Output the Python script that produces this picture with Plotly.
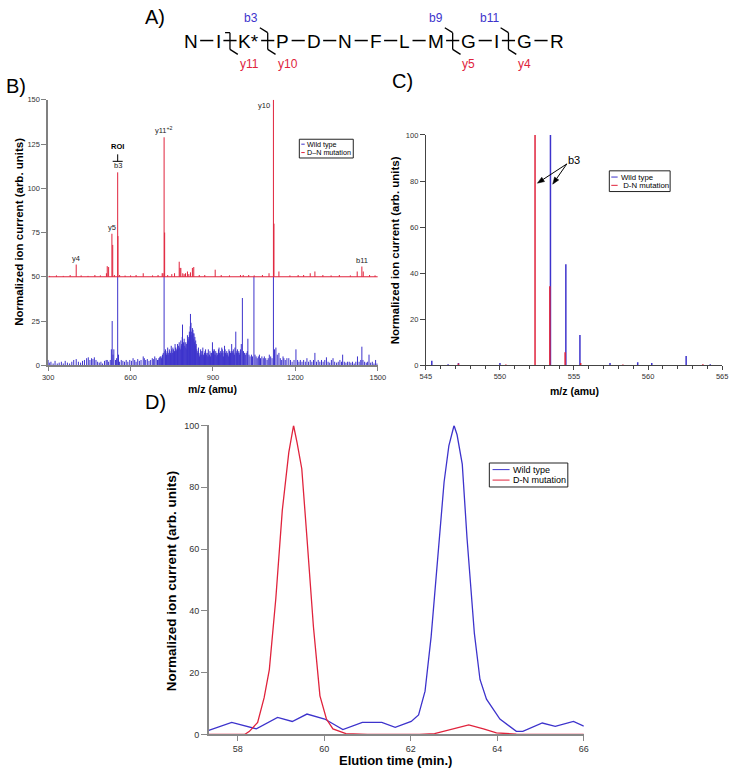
import math
import plotly.graph_objects as go

W, H = 737, 774
FONT = "Arial, Liberation Sans, sans-serif"
BLUE = "#3d33cc"
RED = "#e0233c"

def px(x):
    return x / W

def py(y):
    return 1 - y / H

# ---------------- data ----------------
# Panel A: peptide and fragmentation sites
residues = ["N", "I", "K*", "P", "D", "N", "F", "L", "M", "G", "I", "G", "R"]
cleave_after = [1, 2, 8, 10]
b_ions = [None, "b3", "b9", "b11"]
y_ions = ["y11", "y10", "y5", "y4"]

# Panel B: MS/MS spectra (m/z, normalized intensity)
wt_mz = [300, 304, 310, 318, 325, 333, 340, 348, 355, 362, 370, 378, 386, 393, 402, 410, 418, 425, 432, 440,
         446, 452, 458, 463, 468, 474, 480, 486, 492, 498, 505, 511, 515, 520, 526, 530, 533, 536, 539, 545,
         549, 553, 556, 560, 566, 572, 578, 584, 590, 597, 603, 609, 615, 620, 626, 632, 638, 646, 650, 655,
         661, 667, 673, 679, 684, 688, 693, 698, 703, 706, 711, 716, 719, 722, 725, 729, 733, 737, 741, 745,
         748, 752, 756, 760, 764, 768, 771, 775, 779, 783, 786, 789, 793, 797, 801, 803, 806, 809, 812, 815,
         818, 821, 825, 828, 831, 834, 837, 841, 845, 849, 853, 857, 861, 865, 869, 873, 877, 881, 885, 889,
         893, 898, 902, 905, 908, 912, 916, 920, 924, 928, 932, 936, 940, 944, 948, 952, 956, 960, 964, 968,
         972, 976, 980, 983, 987, 992, 996, 1000, 1003, 1007, 1011, 1015, 1019, 1021, 1025, 1027, 1031, 1035, 1040, 1044,
         1049, 1053, 1057, 1061, 1065, 1069, 1073, 1078, 1083, 1087, 1092, 1097, 1101, 1105, 1110, 1115, 1120, 1124, 1129, 1134,
         1140, 1145, 1150, 1155, 1158, 1163, 1169, 1176, 1182, 1188, 1195, 1202, 1208, 1213, 1218, 1224, 1230, 1236, 1242, 1248,
         1254, 1260, 1266, 1271, 1277, 1283, 1289, 1295, 1301, 1307, 1313, 1319, 1325, 1331, 1337, 1343, 1350, 1356, 1362, 1368,
         1372, 1378, 1384, 1390, 1396, 1402, 1408, 1414, 1420, 1426, 1432, 1438, 1442, 1446, 1452, 1458, 1463, 1468, 1474, 1480,
         1486, 1492, 1497,
         700, 708, 713, 727, 731, 735, 739, 743, 747, 750, 754, 758, 762, 766, 770, 773, 777, 781, 785, 788,
         791, 795, 799, 805, 807, 810, 814, 817, 820, 823, 827, 830, 833, 836, 839, 843, 847, 851, 855, 859,
         863, 867, 871, 875, 879, 883, 887, 891, 895, 900, 904, 910, 914, 918, 922, 926, 930, 934, 938, 942,
         946, 950, 954, 958, 962, 966, 970, 974, 978, 985, 989, 994, 998]
wt_int = [3, 1.5, 2, 1, 2.5, 1, 1.5, 2, 1, 2.5, 1.5, 1, 2, 3, 3.5, 2, 1.5, 2.5, 3, 4,
          4.5, 3, 4, 3.5, 4.5, 3, 2, 1.5, 2, 1, 2.5, 3, 3, 2, 3, 9, 25, 6, 9, 3,
          4, 50, 6, 2, 3, 2.5, 2, 3, 2, 3, 2.5, 4, 3, 2, 3.5, 2.5, 3, 5, 4, 3,
          3.5, 2.5, 3, 4, 3.5, 5, 4, 3, 4, 4.5, 5, 6, 7, 50, 8, 7, 8, 6, 9, 7,
          11, 7, 9, 8, 10, 9, 12, 11, 10, 14, 12, 23, 13, 11, 10, 12, 13, 15, 16, 17,
          29, 19, 21, 18, 18, 16, 14, 9, 8, 7, 6, 8, 8, 6, 7, 9, 6, 7, 5, 8,
          7, 13, 8, 9, 6, 7, 6, 9, 7, 8, 10, 7, 8, 9, 6, 7, 5, 8, 7, 12,
          8, 7, 10, 19, 8, 7, 6, 9, 12, 38, 8, 7, 6, 7, 8, 15, 6, 5, 6, 5,
          50, 6, 5, 4, 5, 6, 4, 5, 4, 5, 4, 3, 4, 6, 5, 4, 50, 9, 10, 6,
          7, 4, 3, 5, 4, 3, 4, 4, 3, 2, 3, 9, 3, 2, 3, 2, 3, 2, 4, 2,
          3, 2, 3, 7, 2, 3, 2, 3, 2, 3, 4.5, 2, 1.5, 3, 4, 2, 1.5, 2, 3, 2,
          6, 2, 1.5, 2, 2, 1.5, 2, 1, 2, 5, 2, 3, 10.5, 3, 2, 1.5, 2, 6, 1.5, 2,
          1, 3, 1,
          3, 5, 4, 9, 6, 10, 7, 8, 6, 9, 10, 7, 12, 8, 10, 9, 13, 9, 11, 16,
          12, 15, 13, 9, 17, 14, 19, 22, 24, 17, 20, 15, 13, 11, 12, 7, 10, 5, 9, 6,
          10, 5, 8, 7, 5, 9, 6, 5, 7, 9, 6, 8, 5, 7, 10, 6, 7, 9, 5, 11,
          7, 8, 6, 9, 6, 8, 7, 9, 6, 7, 9, 8, 7]
dn_mz = [305, 330, 355, 380, 402, 420, 445, 470, 490, 512, 515, 520, 532, 535, 541, 553, 554, 560, 580, 600,
         620, 646, 680, 700, 715, 718, 722, 724, 735, 750, 760, 777, 780, 783, 790, 795, 800, 807, 812, 818,
         825, 830, 850, 870, 908, 930, 960, 1000, 1010, 1030, 1050, 1080, 1104, 1120, 1122, 1140, 1180, 1210, 1230, 1254,
         1271, 1300, 1330, 1360, 1400, 1425, 1442, 1447, 1470, 1490]
dn_int = [0.5, 0.8, 0.5, 1, 6.9, 0.8, 0.5, 1, 0.8, 2, 6, 5.5, 24.3, 18, 1, 59, 23, 1, 0.7, 0.8,
          1, 2, 0.8, 1, 2, 2, 78.8, 25, 1, 1.5, 2, 8.5, 5, 5, 2, 1.5, 2, 3, 1.5, 2.5,
          5, 5.5, 1, 1, 4, 1, 0.8, 1, 1, 1, 0.8, 1, 2, 100, 30, 3, 0.8, 1, 1, 2,
          3, 1, 0.8, 1, 0.8, 3, 5.8, 3, 1, 0.8]
b_peak_labels = ["y4", "y5", "b3", "y11<sup>+2</sup>", "y10", "b11"]
b_peak_mz = [402, 532, 553, 722, 1120, 1442]

# Panel C: zoom on b3 isotope cluster
c_wt_mz = [545.4, 546.5, 547.2, 550.0, 553.41, 554.45, 555.4, 557.43, 559.3, 560.25, 562.57, 564.2]
c_wt_int = [2, 0.5, 1, 1, 100, 43.9, 13.1, 1, 1.3, 1, 4, 0.5]
c_dn_mz = [547.2, 550.4, 552.37, 553.37, 554.4, 555.45, 558.3, 563.7]
c_dn_int = [0.8, 0.3, 100, 34.3, 5.7, 1, 0.3, 0.5]

# Panel D: extracted ion chromatograms
d_wt_t = [57.33, 57.86, 58.43, 58.92, 59.26, 59.6, 60.01, 60.43, 60.88, 61.03, 61.33, 61.64, 62.01, 62.18, 62.33,
          62.47, 62.62, 62.77, 62.88, 63.0, 63.07, 63.19, 63.3, 63.47, 63.6, 63.75, 64.06, 64.44, 64.59, 65.04,
          65.34, 65.76, 66.0]
d_wt = [1.3, 3.9, 1.8, 5.5, 4.2, 6.6, 5.0, 1.6, 3.9, 3.9, 3.9, 2.3, 4.2, 6.3, 14,
        31.6, 57, 81.7, 93.4, 100, 97, 87.5, 63.6, 32.7, 17.8, 11.4, 5.0, 1.0, 1.0, 3.7,
        2.6, 4.2, 2.7]
d_dn_t = [57.33, 58.16, 58.27, 58.46, 58.61, 58.73, 58.88, 59.03, 59.18, 59.29, 59.37, 59.48, 59.6, 59.75, 59.9,
          60.05, 60.2, 60.5, 61.0, 62.2, 62.55, 62.85, 63.34, 63.68, 63.98, 64.44, 66.0]
d_dn = [0, 0, 1, 3.9, 11.9, 21, 44, 72.6, 91.3, 100, 94.5, 86, 63.6, 34.8, 12.5,
        5, 1.8, 0.3, 0, 0, 0.3, 1.3, 3.1, 1.8, 0.5, 0.1, 0]

RED_OFFSET = 50  # mutant spectrum is drawn on top of the wild-type one in panel B


def sticks(mz, inten, base=0.0):
    xs, ys = [], []
    for m, v in zip(mz, inten):
        xs += [m, m, None]
        ys += [base, base + v, None]
    return xs, ys


fig = go.Figure()

# ---- Panel B ----
x, y = sticks(wt_mz, wt_int)
fig.add_trace(go.Scatter(x=x, y=y, mode="lines", line=dict(color=BLUE, width=1),
                         xaxis="x", yaxis="y", showlegend=False, hoverinfo="skip"))
fig.add_trace(go.Scatter(x=[300, 1500], y=[RED_OFFSET, RED_OFFSET], mode="lines",
                         line=dict(color=RED, width=1), xaxis="x", yaxis="y", showlegend=False))
x, y = sticks(dn_mz, dn_int, RED_OFFSET)
fig.add_trace(go.Scatter(x=x, y=y, mode="lines", line=dict(color=RED, width=1),
                         xaxis="x", yaxis="y", showlegend=False, hoverinfo="skip"))

# ---- Panel C ----
x, y = sticks(c_wt_mz, c_wt_int)
fig.add_trace(go.Scatter(x=x, y=y, mode="lines", line=dict(color=BLUE, width=1.5),
                         xaxis="x2", yaxis="y2", showlegend=False))
x, y = sticks(c_dn_mz, c_dn_int)
fig.add_trace(go.Scatter(x=x, y=y, mode="lines", line=dict(color=RED, width=1.5),
                         xaxis="x2", yaxis="y2", showlegend=False))

# ---- Panel D ----
fig.add_trace(go.Scatter(x=d_wt_t, y=d_wt, mode="lines", line=dict(color=BLUE, width=1.3),
                         xaxis="x3", yaxis="y3", showlegend=False))
fig.add_trace(go.Scatter(x=d_dn_t, y=d_dn, mode="lines", line=dict(color=RED, width=1.3),
                         xaxis="x3", yaxis="y3", showlegend=False))


def axis(domain, rng, tickvals, linecolor, lw, fs, anchor, ticklen=5, minor=None):
    d = dict(domain=domain, range=rng, tickvals=tickvals, showline=True, linecolor=linecolor,
             linewidth=lw, ticks="outside", ticklen=ticklen, tickcolor=linecolor, tickwidth=1,
             tickfont=dict(family=FONT, size=fs, color="#333"), showgrid=False, zeroline=False,
             anchor=anchor, fixedrange=True, ticklabeloverflow="allow")
    if minor:
        d["minor"] = minor
    return d


layout = dict(
    width=W, height=H, margin=dict(l=0, r=0, t=0, b=0),
    paper_bgcolor="white", plot_bgcolor="white",
    xaxis=axis([px(43), px(379)], [300, 1500], [300, 600, 900, 1200, 1500], "#808080", 1.5, 7.5, "y", ticklen=4),
    yaxis=axis([py(365), py(96)], [0, 150], [0, 25, 50, 75, 100, 125, 150], "#808080", 1.5, 7.5, "x"),
    xaxis2=axis([px(428), px(730)], [545, 565], [545, 550, 555, 560, 565], "#444", 1, 7.5, "y2", ticklen=4,
                minor=dict(dtick=1, ticks="outside", ticklen=3, tickcolor="#444")),
    yaxis2=axis([py(365), py(131.7)], [0, 100], [0, 20, 40, 60, 80, 100], "#444", 1, 7.5, "x2"),
    xaxis3=axis([px(206.7), px(589)], [57.33, 66], [58, 60, 62, 64, 66], "#888", 1.5, 9, "y3", ticklen=5),
    yaxis3=axis([py(739), py(426)], [0, 100], [0, 20, 40, 60, 80, 100], "#888", 1.5, 9, "x3", ticklen=6),
)
fig.update_layout(**layout)

ann = []
shapes = []


def text(x, y, s, size, color="black", bold=False, xanchor="center", yanchor="middle", angle=0,
         xref="paper", yref="paper"):
    if bold:
        s = "<b>" + s + "</b>"
    ann.append(dict(x=x, y=y, xref=xref, yref=yref, text=s, showarrow=False, xanchor=xanchor,
                    yanchor=yanchor, textangle=angle, borderpad=0,
                    font=dict(family=FONT, size=size, color=color)))


def seg(x0, y0, x1, y1, color="black", width=1):
    shapes.append(dict(type="line", xref="paper", yref="paper", x0=px(x0), y0=py(y0), x1=px(x1), y1=py(y1),
                       line=dict(color=color, width=width)))


def arrow(tx0, ty0, tx1, ty1, head=7, half=2.6):
    """Straight arrow in figure pixels from tail (tx0, ty0) to tip (tx1, ty1)."""
    dx, dy = tx1 - tx0, ty1 - ty0
    L = math.hypot(dx, dy)
    ux, uy = dx / L, dy / L
    bx, by = tx1 - ux * head, ty1 - uy * head
    seg(tx0, ty0, bx, by, width=1)
    p1 = (bx - uy * half, by + ux * half)
    p2 = (bx + uy * half, by - ux * half)
    path = "M {} {} L {} {} L {} {} Z".format(px(tx1), py(ty1), px(p1[0]), py(p1[1]), px(p2[0]), py(p2[1]))
    shapes.append(dict(type="path", xref="paper", yref="paper", path=path, fillcolor="black",
                       line=dict(color="black", width=0.5)))


# Panel labels
text(px(152), py(12), "A)", 20)
text(px(10), py(82), "B)", 20)
text(px(404), py(77), "C)", 20)
text(px(152), py(402), "D)", 20)

# ---- Panel A: peptide diagram ----
CW = {"N": .722, "I": .278, "K": .667, "*": .389, "P": .667, "D": .722, "F": .611, "L": .556,
      "M": .833, "G": .778, "R": .722}
fs_seq = 19
widths = [sum(CW[c] for c in r) * fs_seq for r in residues]
x_start, x_end, y_seq = 181.7, 568.3, 36
gap = (x_end - x_start - sum(widths)) / (len(residues) - 1)
lefts = []
cur = x_start
for w in widths:
    lefts.append(cur)
    cur += w + gap
for r, l, w in zip(residues, lefts, widths):
    text(px(l + w / 2), py(y_seq + 1), r, fs_seq)
for i in range(len(residues) - 1):
    seg(lefts[i] + widths[i] + 2.5, y_seq, lefts[i + 1] - 2.5, y_seq, width=1.5)
for k, (site, bl, yl) in enumerate(zip(cleave_after, b_ions, y_ions)):
    xm = lefts[site] + widths[site] + gap / 2
    seg(xm, 28, xm, 45, width=1.3)
    if bl:
        seg(xm, 28, xm - 8, 23, width=1.3)
        text(px(xm - 9), py(13), bl, 12, color=BLUE, xanchor="right")
    else:
        seg(xm, 28, xm - 5, 28, width=1.3)
    seg(xm, 45, xm + 8, 50, width=1.3)
    text(px(xm + 9), py(60), yl, 12, color=RED, xanchor="left")

# ---- Panel B annotations ----
for lab, m in zip(b_peak_labels, b_peak_mz):
    v = RED_OFFSET + dn_int[dn_mz.index(m)]
    if lab == "y10":
        ann.append(dict(x=m, y=146.8, xref="x", yref="y", text=lab, showarrow=False, xanchor="right",
                        yanchor="middle", xshift=-1, font=dict(family=FONT, size=7.5, color="#222")))
    else:
        ann.append(dict(x=m, y=v, xref="x", yref="y", text=lab, showarrow=False, xanchor="center",
                        yanchor="bottom", yshift=0, font=dict(family=FONT, size=7.5, color="#222")))
# ROI marker above b3
ann.append(dict(x=553, y=RED_OFFSET + 59, xref="x", yref="y", text="<b>ROI</b>", showarrow=False,
                yanchor="bottom", yshift=19, font=dict(family=FONT, size=7.5, color="black")))
shapes.append(dict(type="line", xref="x", yref="y", xsizemode="pixel", ysizemode="pixel",
                   xanchor=553, yanchor=RED_OFFSET + 59, x0=0, x1=0, y0=11, y1=18,
                   line=dict(color="black", width=1)))
shapes.append(dict(type="line", xref="x", yref="y", xsizemode="pixel", ysizemode="pixel",
                   xanchor=553, yanchor=RED_OFFSET + 59, x0=-5, x1=5, y0=11, y1=11,
                   line=dict(color="black", width=1)))

# axis titles
text(px(13), py(230), "Normalized ion current (arb. units)", 11.5, bold=True, angle=-90)
text(px(211), py(389), "m/z (amu)", 10.5, bold=True)
text(px(396), py(248), "Normalized ion current (arb. units)", 11.5, bold=True, angle=-90)
text(px(579), py(391), "m/z (amu)", 10.5, bold=True)
text(px(169), py(583), "Normalized ion current (arb. units)", 13.5, bold=True, angle=-90)
text(px(397.5), py(765), "Elution time (min.)", 13, bold=True)


# manual legends
def legend(x0, y0, x1, y1, rows, sx0, sx1, tx, fs):
    shapes.append(dict(type="rect", xref="paper", yref="paper", x0=px(x0), y0=py(y0), x1=px(x1), y1=py(y1),
                       line=dict(color="#222", width=1), fillcolor="white"))
    for (label, color, ry) in rows:
        seg(sx0, ry, sx1, ry, color=color, width=1)
        text(px(tx), py(ry), label, fs, xanchor="left")


legend(299, 136, 354, 155, [("Wild type", BLUE, 141), ("D–N mutation", RED, 149.5)], 301, 304.5, 305.5, 7.2)
legend(615, 168, 677, 189, [("Wild type", BLUE, 174.3), (" D-N mutation", RED, 182.7)], 617, 623.5, 625.5, 7.8)
legend(492.7, 464, 572.7, 488.3, [("Wild type", BLUE, 470.7), ("D-N mutation", RED, 481.3)], 496, 513.3, 516, 9)

# Panel C b3 arrows (tail near the label, tips on the two b3 sticks)
arrow(571.7, 161, 541.7, 180.5)
arrow(571.7, 161, 557.3, 181.5)
ann.append(dict(x=555.0, y=89.2, xref="x2", yref="y2", text="b3", showarrow=False,
                font=dict(family=FONT, size=11, color="black")))

fig.update_layout(annotations=ann, shapes=shapes)
fig.write_html("out.html", config={"displayModeBar": False},
               post_script="document.body.style.margin='0px';document.body.style.overflow='hidden';")
